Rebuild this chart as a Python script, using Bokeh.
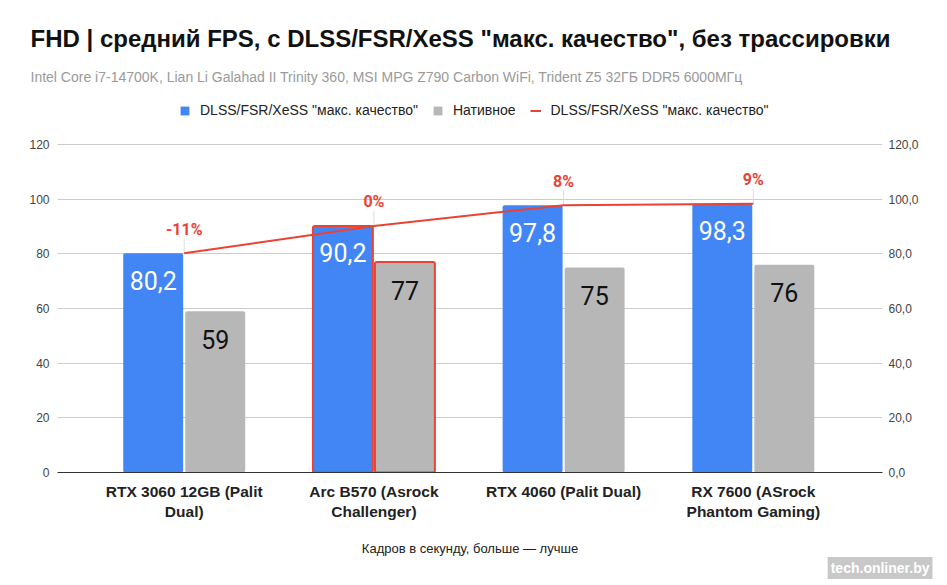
from bokeh.plotting import figure
from bokeh.models import (Range1d, LinearAxis, FixedTicker, ColumnDataSource,
                          Legend, LegendItem, Title)
from bokeh.core.properties import value
from bokeh.embed import file_html
from bokeh.resources import INLINE

# ---- data ----
categories = ["RTX 3060 12GB (Palit\nDual)", "Arc B570 (Asrock\nChallenger)",
              "RTX 4060 (Palit Dual)", "RX 7600 (ASrock\nPhantom Gaming)"]
upscaled = [80.2, 90.2, 97.8, 98.3]
native = [59, 77, 75, 76]
diff_labels = ["-11%", "0%", "8%", "9%"]
highlight = [1]  # index of highlighted category
y_ticks = [0, 20, 40, 60, 80, 100, 120]

title_text = 'FHD | средний FPS, с DLSS/FSR/XeSS "макс. качество", без трассировки'
subtitle_text = "Intel Core i7-14700K, Lian Li Galahad II Trinity 360, MSI MPG Z790 Carbon WiFi, Trident Z5 32ГБ DDR5 6000МГц"
series_name = 'DLSS/FSR/XeSS "макс. качество"'
native_name = "Нативное"
x_title = "Кадров в секунду, больше — лучше"
watermark = "tech.onliner.by"

BLUE = "#4285F4"
GRAY = "#B7B7B7"
RED = "#EA4335"

W, H = 947, 585
FRAME_TOP, FRAME_BOTTOM = 95, 472        # page pixels
PX_PER_UNIT = (472 - 144) / 120.0        # 120 gridline sits at y=144
y_top = (FRAME_BOTTOM - FRAME_TOP) / PX_PER_UNIT
xs = list(range(len(categories)))
off = 0.1635
bw = 0.316

p = figure(width=W, height=H, output_backend="svg", toolbar_location=None,
           title=None,
           x_range=Range1d(-0.668, 3.681), y_range=Range1d(0, y_top),
           min_border_left=57, min_border_right=65, min_border_top=FRAME_TOP,
           min_border_bottom=H - FRAME_BOTTOM, outline_line_color=None)

p.xgrid.grid_line_color = None
p.ygrid.grid_line_color = "#CCCCCC"
p.ygrid.ticker = FixedTicker(ticks=y_ticks)

ya = p.yaxis[0]
ya.ticker = FixedTicker(ticks=y_ticks)
ya.axis_line_color = None
ya.major_tick_line_color = None
ya.minor_tick_line_color = None
ya.major_tick_out = 0
ya.major_tick_in = 0
ya.major_label_standoff = 8
ya.major_label_text_font = "Liberation Sans"
ya.major_label_text_font_size = "12px"
ya.major_label_text_color = "#444444"

ra = LinearAxis(ticker=FixedTicker(ticks=y_ticks),
                major_label_overrides={t: f"{t},0" for t in y_ticks})
ra.axis_line_color = None
ra.major_tick_line_color = None
ra.minor_tick_line_color = None
ra.major_tick_out = 0
ra.major_tick_in = 0
ra.major_label_standoff = 6
ra.major_label_text_font = "Liberation Sans"
ra.major_label_text_font_size = "12px"
ra.major_label_text_color = "#444444"
p.add_layout(ra, "right")

xa = p.xaxis[0]
xa.ticker = FixedTicker(ticks=xs)
xa.major_label_overrides = {i: c for i, c in enumerate(categories)}
xa.axis_line_color = "#333333"
xa.axis_line_width = 1
xa.major_tick_line_color = None
xa.minor_tick_line_color = None
xa.major_tick_out = 0
xa.major_tick_in = 0
xa.major_label_standoff = 10
xa.major_label_text_font = "Liberation Sans"
xa.major_label_text_font_style = "bold"
xa.major_label_text_font_size = "15.5px"
xa.major_label_text_color = "#222222"
xa.axis_label = x_title
xa.axis_label_text_font = "Liberation Sans"
xa.axis_label_text_font_style = "normal"
xa.axis_label_text_font_size = "13px"
xa.axis_label_text_color = "#222222"
xa.axis_label_standoff = 18

src = ColumnDataSource(dict(
    xb=[x - off for x in xs], xg=[x + off for x in xs],
    up=upscaled, nat=native, x=xs,
    up_lbl=[f"{v:.1f}".replace(".", ",") for v in upscaled],
    nat_lbl=[f"{v:.0f}" for v in native],
    diff=diff_labels,
    conn_top=[v + 5.5 for v in upscaled],
))
rb = p.vbar(x="xb", top="up", width=bw, source=src, fill_color=BLUE,
            line_color=None, border_radius=2)
rg = p.vbar(x="xg", top="nat", width=bw, source=src, fill_color=GRAY,
            line_color=None, border_radius=2)

hsrc = ColumnDataSource(dict(
    x=[xs[i] - off for i in highlight] + [xs[i] + off for i in highlight],
    top=[upscaled[i] for i in highlight] + [native[i] for i in highlight]))
p.vbar(x="x", top="top", width=bw, source=hsrc, fill_color=None,
       line_color=RED, line_width=2, border_radius=2)

p.segment(x0="x", y0="up", x1="x", y1="conn_top", source=src,
          line_color="#DDDDDD", line_width=1)
rl = p.line(x="x", y="up", source=src, line_color=RED, line_width=2)

p.text(x="xb", y="up", text="up_lbl", source=src, text_align="center",
       text_baseline="middle", y_offset=27, text_color="white",
       text_font=value("Roboto"), text_font_size="25px")
p.text(x="xg", y="nat", text="nat_lbl", source=src, text_align="center",
       text_baseline="middle", y_offset=28, text_color="#111111",
       text_font=value("Roboto"), text_font_size="25px")
p.text(x="x", y="up", text="diff", source=src, text_align="center",
       text_baseline="middle", y_offset=-24, text_color=RED,
       text_font=value("Roboto"), text_font_style="bold",
       text_font_size="16px")

# ---- legend inside the (extended) frame ----
legend = Legend(items=[
    LegendItem(label=series_name, renderers=[rb]),
    LegendItem(label=native_name, renderers=[rg]),
    LegendItem(label=series_name, renderers=[rl]),
], orientation="horizontal", location=(179 - 57, FRAME_BOTTOM - 118),
    glyph_width=11, glyph_height=11, label_standoff=10, spacing=14,
    padding=0, margin=0, border_line_color=None, background_fill_alpha=0,
    label_text_font="Liberation Sans", label_text_font_size="14px",
    label_text_color="#222222", label_height=14)
p.add_layout(legend, "center")

# ---- above panel: subtitle (closest), title ----
p.add_layout(Title(text=subtitle_text, align="left", offset=-27, standoff=22,
                   text_font="Liberation Sans", text_font_size="14px",
                   text_font_style="normal", text_color="#9A9A9A"), "above")
p.add_layout(Title(text=title_text, align="left", offset=-27, standoff=8,
                   text_font="Liberation Sans", text_font_size="24px",
                   text_font_style="bold", text_color="#111111"), "above")

# ---- below panel: watermark ----
p.add_layout(Title(text=watermark, align="right", offset=-50, standoff=-7,
                   text_font="Liberation Sans", text_font_size="14px",
                   text_font_style="bold", text_color="white",
                   background_fill_color="#C2C2C2", background_fill_alpha=0.9,
                   padding=3), "below")

open("out.html", "w").write(file_html(p, INLINE))
